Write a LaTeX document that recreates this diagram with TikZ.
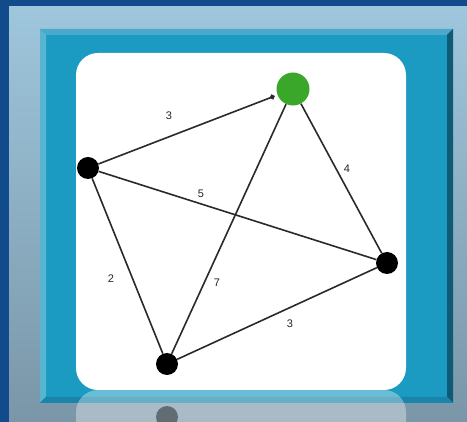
\documentclass[tikz,border=0pt]{standalone}
\usepackage{fontspec}
\setmainfont{Liberation Sans}
\usetikzlibrary{arrows.meta}
\definecolor{navy}{HTML}{114B8C}
\definecolor{panelTop}{HTML}{9EC6DC}
\definecolor{panelBot}{HTML}{7A96A8}
\definecolor{tealIn}{HTML}{1B9AC2}
\definecolor{bevTop}{HTML}{4BAACB}
\definecolor{bevLeft}{HTML}{58B5D1}
\definecolor{bevRight}{HTML}{0F5B76}
\definecolor{bevBot}{HTML}{1A84AA}
\definecolor{nodeGreen}{HTML}{3AA72A}
\definecolor{edgeCol}{HTML}{2A2A2A}
\tikzset{
  vtx/.style={circle, fill=black, minimum size=22pt, inner sep=0pt},
  gvtx/.style={circle, fill=nodeGreen, minimum size=33pt, inner sep=0pt},
  edge/.style={draw=edgeCol, line width=1.6pt},
  wlabel/.style={font=\fontsize{11}{13}\selectfont, inner sep=0pt, text=black!85}
}
\begin{document}
\begin{tikzpicture}[x=1pt,y=-1pt]
\useasboundingbox (0,0) rectangle (467,422);
% background
\fill[navy] (0,0) rectangle (467,422);
\shade[top color=panelTop, bottom color=panelBot] (9,7) rectangle (467,422);
% teal frame with bevels
\fill[tealIn] (40,29) rectangle (453,403);
\fill[bevTop] (40,29) -- (453,29) -- (447,35) -- (46,35) -- cycle;
\fill[bevLeft] (40,29) -- (46,35) -- (46,397) -- (40,403) -- cycle;
\fill[bevRight] (453,29) -- (453,403) -- (447,397) -- (447,35) -- cycle;
\fill[bevBot] (40,403) -- (453,403) -- (447,397) -- (46,397) -- cycle;
% white card
\fill[white, rounded corners=22pt] (76,53) rectangle (406,390);
% reflection
\begin{scope}
  \clip (76,390) rectangle (406,422);
  \fill[white, opacity=0.35, rounded corners=22pt] (76,390) rectangle (406,460);
  \fill[black, opacity=0.42] (167,417) circle (11pt);
\end{scope}
% vertices
\node[gvtx] (g) at (293,89) {};
\node[vtx] (l) at (88,168) {};
\node[vtx] (r) at (387,263) {};
\node[vtx] (b) at (167,364) {};
% edges
\draw[edge, -{Circle[length=5pt]}, shorten >=3pt] (l) -- (g);
\draw[edge] (l) -- (r);
\draw[edge] (l) -- (b);
\draw[edge] (g) -- (b);
\draw[edge] (g) -- (r);
\draw[edge] (b) -- (r);
% labels
\node[wlabel] (w1) at (169,116) {3};
\node[wlabel] (w2) at (201,194) {5};
\node[wlabel] (w3) at (347,169) {4};
\node[wlabel] (w4) at (111,279) {2};
\node[wlabel] (w5) at (217,283) {7};
\node[wlabel] (w6) at (290,324) {3};
\end{tikzpicture}
\end{document}
